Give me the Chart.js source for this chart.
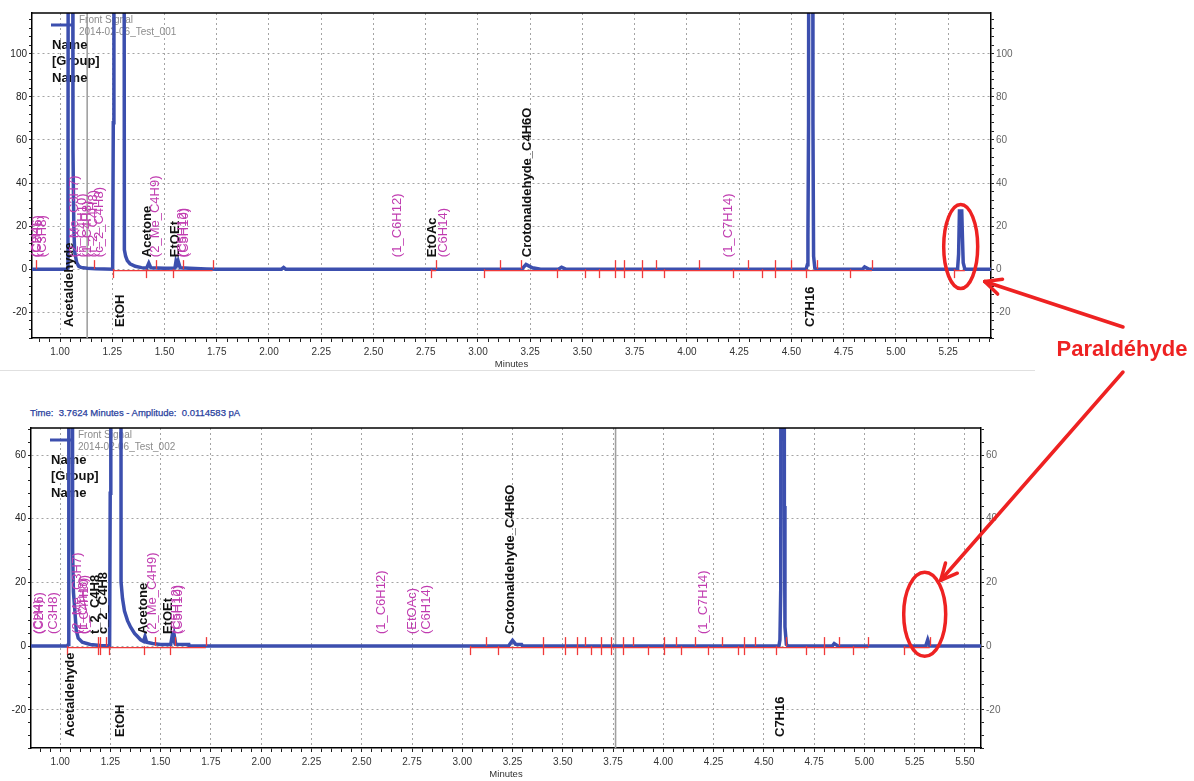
<!DOCTYPE html>
<html>
<head>
<meta charset="utf-8">
<script src="https://cdn.jsdelivr.net/npm/chart.js@4.4.1/dist/chart.umd.min.js"></script>
<style>
  body { margin: 0; background: #fff; width: 1194px; height: 781px; overflow: hidden; position: relative; font-family: "Liberation Sans", Arial, sans-serif; }
  .box { position: absolute; left: 0; width: 1040px; }
  #topBox { top: 0; height: 375px; }
  #bottomBox { top: 400px; height: 381px; }
  #sep { position: absolute; left: 0; top: 370px; width: 1035px; height: 1px; background: #e0e0e0; }
  #timeInfo { position: absolute; left: 30px; top: 407px; font-size: 9.5px; color: #2a3f9e; white-space: nowrap; -webkit-text-stroke: 0.25px #2a3f9e; }
  #overlay { position: absolute; left: 0; top: 0; pointer-events: none; }
</style>
</head>
<body>
<div id="sep"></div>
<div id="timeInfo">Time:&nbsp; 3.7624 Minutes - Amplitude:&nbsp; 0.0114583 pA</div>
<div class="box" id="topBox"><canvas id="topChart"></canvas></div>
<div class="box" id="bottomBox"><canvas id="bottomChart"></canvas></div>
<canvas id="overlay" width="1194" height="781"></canvas>
<script>
// axis ticks (minutes / pA)
const topXTicks = [1.00, 1.25, 1.50, 1.75, 2.00, 2.25, 2.50, 2.75, 3.00, 3.25, 3.50, 3.75, 4.00, 4.25, 4.50, 4.75, 5.00, 5.25];
const bottomXTicks = [1.00, 1.25, 1.50, 1.75, 2.00, 2.25, 2.50, 2.75, 3.00, 3.25, 3.50, 3.75, 4.00, 4.25, 4.50, 4.75, 5.00, 5.25, 5.50];
const topYTicks = [-20, 0, 20, 40, 60, 80, 100];
const bottomYTicks = [-20, 0, 20, 40, 60];
const topXRange = [0.866, 5.455];
const topYRange = [-32, 119];
const bottomXRange = [0.855, 5.58];
const bottomYRange = [-32, 68.5];

// signal traces (time in minutes, amplitude in pA)
const topTime = [0.866, 1.030, 1.038, 1.041, 1.059, 1.062, 1.066, 1.070, 1.080, 1.090, 1.100, 1.130, 1.170, 1.252, 1.255, 1.258, 1.305, 1.308, 1.314, 1.322, 1.335, 1.360, 1.390, 1.415, 1.425, 1.435, 1.500, 1.550, 1.555, 1.560, 1.565, 1.575, 1.620, 1.700, 1.750, 2.060, 2.070, 2.080, 3.210, 3.230, 3.245, 3.260, 3.300, 3.385, 3.400, 3.420, 4.570, 4.576, 4.579, 4.582, 4.585, 4.600, 4.603, 4.606, 4.612, 4.620, 4.840, 4.850, 4.870, 5.295, 5.300, 5.304, 5.315, 5.318, 5.322, 5.330, 5.455];
const topSignal = [0, 0, 0.5, 400, 400, 56, 20, 8, 3, 1.3, 0.8, 0.4, 0.2, 0, 68, 400, 400, 9, 6, 4, 2.5, 1.3, 0.7, 0.5, 2.8, 0.6, 0.4, 0.5, 3.6, 2.4, 3.8, 0.6, 0.4, 0.1, 0, 0, 0.8, 0, 0, 2.2, 1.4, 0.6, 0, 0, 0.9, 0, 0, 2, 16, 68, 400, 400, 68, 6, 0.5, 0, 0, 1, 0, 0, 7, 27, 27, 16, 3, 0, 0];
const bottomTime = [0.855, 1.035, 1.040, 1.043, 1.058, 1.062, 1.066, 1.072, 1.080, 1.090, 1.110, 1.150, 1.200, 1.246, 1.249, 1.252, 1.300, 1.303, 1.310, 1.320, 1.335, 1.350, 1.370, 1.385, 1.400, 1.415, 1.422, 1.430, 1.460, 1.500, 1.550, 1.557, 1.563, 1.567, 1.575, 1.640, 1.642, 3.230, 3.250, 3.265, 3.295, 3.300, 4.575, 4.580, 4.584, 4.587, 4.600, 4.602, 4.605, 4.612, 4.620, 4.840, 4.850, 4.870, 5.305, 5.315, 5.325, 5.580];
const bottomSignal = [0, 0, 0.5, 400, 400, 30, 17, 12, 5, 2.5, 1.2, 0.5, 0.2, 0, 48, 400, 400, 20, 15, 11, 8, 6, 4, 3, 2, 1.5, 3, 1.2, 0.8, 0.5, 0.5, 3.2, 2.2, 3.5, 0.6, 0.5, 0, 0, 1.8, 0.6, 0.5, 0, 0, 2, 18, 400, 400, 44, 6, 0.5, 0, 0, 0.8, 0, 0, 2, 0, 0];

// integration events: time and direction (1 up, -1 down, 0 both)
const topMarkTimes = [0.885, 1.163, 1.254, 1.41, 1.46, 1.54, 1.59, 1.73, 2.775, 2.80, 3.03, 3.105, 3.205, 3.38, 3.51, 3.58, 3.655, 3.70, 3.785, 3.85, 3.89, 4.06, 4.22, 4.29, 4.36, 4.42, 4.50, 4.57, 4.62, 4.78, 4.885, 5.28];
const topMarkDir = [1, 1, -1, -1, 1, -1, 1, 1, -1, 1, -1, 1, 1, -1, -1, -1, 0, 0, 0, 1, -1, 1, -1, 1, -1, 0, 1, -1, 1, -1, 1, -1];
const topRuns = [[1.254, 1.73], [2.775, 2.80], [3.03, 4.885], [5.28, 5.33]];
const bottomMarkTimes = [1.035, 1.19, 1.20, 1.23, 1.245, 1.415, 1.47, 1.545, 1.57, 1.725, 3.04, 3.12, 3.18, 3.40, 3.51, 3.57, 3.61, 3.64, 3.69, 3.74, 3.80, 3.85, 3.925, 4.005, 4.065, 4.09, 4.16, 4.22, 4.29, 4.37, 4.40, 4.455, 4.56, 4.61, 4.71, 4.80, 4.875, 4.945, 5.02, 5.195, 5.325];
const bottomMarkDir = [-1, 0, 0, 1, -1, -1, 1, -1, 1, 1, -1, 1, -1, 0, 0, 0, 1, -1, 0, 0, 0, 1, -1, 0, 1, -1, 1, -1, 1, -1, 0, 1, -1, 1, -1, 0, 1, -1, 1, -1, 1];
const bottomRuns = [[1.035, 1.725], [3.04, 5.02], [5.195, 5.325]];

// peak names: 'peak' = identified (above), 'low' = identified (below), 'group' = expected (magenta)
const topLabelNames = ['(CH4)', '(C2H6)', '(C3H8)', 'Acetaldehyde', '(2_Me_C3H7)', '(n_C4H10)', '(1_C4H8)', '(t_2_C4H8)', '(c_2_C4H8)', 'EtOH', 'Acetone', '(2_Me_C4H9)', 'EtOEt', '(C5H12)', '(C5H10)', '(1_C6H12)', 'EtOAc', '(C6H14)', 'Crotonaldehyde_C4H6O', '(1_C7H14)', 'C7H16'];
const topLabelTimes = [0.885, 0.89, 0.915, 1.045, 1.07, 1.105, 1.13, 1.16, 1.19, 1.29, 1.42, 1.455, 1.55, 1.588, 1.595, 2.617, 2.78, 2.833, 3.235, 4.197, 4.59];
const topLabelKinds = ['group', 'group', 'group', 'low', 'group', 'group', 'group', 'group', 'group', 'low', 'peak', 'group', 'peak', 'group', 'group', 'group', 'peak', 'group', 'peak', 'group', 'low'];
const bottomLabelNames = ['(CH4)', '(C2H6)', '(C3H8)', 'Acetaldehyde', '(2_Me_C3H7)', '(1_C4H8)', '(i_C4H10)', 't_2_C4H8', 'c_2_C4H8', 'EtOH', 'Acetone', '(2_Me_C4H9)', 'EtOEt', '(C5H12)', '(C5H10)', '(1_C6H12)', '(EtOAc)', '(C6H14)', 'Crotonaldehyde_C4H6O', '(1_C7H14)', 'C7H16'];
const bottomLabelTimes = [0.89, 0.895, 0.965, 1.05, 1.085, 1.115, 1.12, 1.175, 1.215, 1.30, 1.415, 1.46, 1.54, 1.58, 1.587, 2.60, 2.75, 2.82, 3.24, 4.20, 4.58];
const bottomLabelKinds = ['group', 'group', 'group', 'low', 'group', 'group', 'group', 'peak', 'peak', 'low', 'peak', 'group', 'peak', 'group', 'group', 'group', 'group', 'group', 'peak', 'group', 'low'];

const topLegend = ['Front Signal', '2014-02-06_Test_001'];
const bottomLegend = ['Front Signal', '2014-02-06_Test_002'];
const topCursor = 1.13;
const bottomCursor = 3.7624;

const FONT = '"Liberation Sans", Arial, sans-serif';
const BLUE = '#3c4fae';
const RED = '#f03a3a';

// draws legend, cursor, integration marks and peak names
const chromPlugin = {
    id: 'chrom',
    beforeDatasetsDraw(chart, args, opts) {
        const {ctx, chartArea: a, scales: {x}} = chart;
        ctx.save();
        const cx = x.getPixelForValue(opts.cursor);
        ctx.strokeStyle = '#a0a0a0';
        ctx.lineWidth = 1.6;
        ctx.beginPath(); ctx.moveTo(cx, a.top); ctx.lineTo(cx, a.bottom); ctx.stroke();

        ctx.strokeStyle = BLUE;
        ctx.lineWidth = 3;
        ctx.beginPath(); ctx.moveTo(a.left + 19, a.top + 12); ctx.lineTo(a.left + 40, a.top + 12); ctx.stroke();
        ctx.fillStyle = '#8c8c8c';
        ctx.font = '10px ' + FONT;
        ctx.textBaseline = 'middle';
        ctx.fillText(opts.legend[0], a.left + 47, a.top + 7);
        ctx.fillText(opts.legend[1], a.left + 47, a.top + 19);
        ctx.fillStyle = '#111';
        ctx.font = 'bold 13px ' + FONT;
        ['Name', '[Group]', 'Name'].forEach((s, i) => ctx.fillText(s, a.left + 20, a.top + 32 + i * 16.5));
        ctx.restore();
    },
    afterDatasetsDraw(chart, args, opts) {
        const {ctx, chartArea: a, scales: {x, y}} = chart;
        const y0 = y.getPixelForValue(0);
        ctx.save();
        ctx.strokeStyle = RED;
        ctx.lineWidth = 1.3;
        opts.runs.forEach(r => {
            ctx.beginPath();
            ctx.moveTo(x.getPixelForValue(r[0]), y0 + 1.5);
            ctx.lineTo(x.getPixelForValue(r[1]), y0 + 1.5);
            ctx.stroke();
        });
        opts.marks.forEach((t, i) => {
            const px = Math.round(x.getPixelForValue(t)) + 0.5;
            const d = opts.dirs[i];
            ctx.beginPath();
            ctx.moveTo(px, d < 0 ? y0 : y0 - 9);
            ctx.lineTo(px, d > 0 ? y0 : y0 + 9);
            ctx.stroke();
        });

        ctx.textBaseline = 'middle';
        ctx.textAlign = 'left';
        opts.names.forEach((name, i) => {
            const kind = opts.kinds[i];
            const px = x.getPixelForValue(opts.times[i]);
            const py = kind === 'low' ? a.bottom - 11 : y0 - 12;
            ctx.fillStyle = kind === 'group' ? '#c03cb0' : '#111';
            ctx.font = (kind === 'group' ? '' : 'bold ') + '13px ' + FONT;
            ctx.save();
            ctx.translate(px, py);
            ctx.rotate(-Math.PI / 2);
            ctx.fillText(name, 0, 0);
            ctx.restore();
        });
        ctx.restore();
    },
    afterDraw(chart) {
        const {ctx, chartArea: a} = chart;
        ctx.save();
        ctx.strokeStyle = '#000';
        ctx.lineWidth = 1.5;
        ctx.beginPath(); ctx.moveTo(a.left, a.top); ctx.lineTo(a.right, a.top); ctx.stroke();
        ctx.fillStyle = '#333';
        ctx.font = '9.5px ' + FONT;
        ctx.textAlign = 'center';
        ctx.textBaseline = 'middle';
        ctx.fillText('Minutes', (a.left + a.right) / 2, a.bottom + 26);
        ctx.restore();
    }
};

function isNear(list, v) {
    return list.some(m => Math.abs(m - v) < 1e-6);
}

function xAxis(range, majors, height) {
    return {
        type: 'linear', position: 'bottom', min: range[0], max: range[1],
        afterBuildTicks: s => {
            const ticks = [];
            for (let i = Math.ceil(range[0] * 20 - 1e-9); i <= Math.floor(range[1] * 20 + 1e-9); i++) ticks.push({value: i / 20});
            s.ticks = ticks;
        },
        afterFit: s => { s.height = height; },
        ticks: {
            autoSkip: false, maxRotation: 0, padding: 4, color: '#333', font: {size: 10, family: FONT},
            callback: v => isNear(majors, v) ? v.toFixed(2) : ''
        },
        grid: {
            color: c => c.tick && isNear(majors, c.tick.value) ? '#a4a4a4' : 'rgba(0,0,0,0)',
            tickColor: '#222', tickLength: 4, lineWidth: 1
        },
        border: {display: true, color: '#000', width: 1.5, dash: [2, 3]}
    };
}

function yAxis(range, majors, pos, width, labelColor) {
    return {
        type: 'linear', position: pos, min: range[0], max: range[1],
        afterBuildTicks: s => {
            const ticks = [];
            for (let i = Math.ceil(range[0] / 4); i <= Math.floor(range[1] / 4); i++) ticks.push({value: i * 4});
            s.ticks = ticks;
        },
        afterFit: s => { s.width = width; },
        ticks: {
            autoSkip: false, padding: 2, color: labelColor, font: {size: 10, family: FONT},
            callback: v => isNear(majors, v) ? String(v) : ''
        },
        grid: {
            drawOnChartArea: pos === 'left',
            color: c => c.tick && isNear(majors, c.tick.value) ? '#a4a4a4' : 'rgba(0,0,0,0)',
            tickColor: '#222', tickLength: 3
        },
        border: {display: true, color: '#000', width: 1.5, dash: [2, 3]}
    };
}

function makeChart(id, time, signal, opts) {
    const ctx = document.getElementById(id).getContext('2d');
    return new Chart(ctx, {
        type: 'scatter',
        data: {
            datasets: [{
                data: time.map((t, i) => ({x: t, y: signal[i]})),
                showLine: true,
                borderColor: BLUE,
                borderWidth: 3.5,
                pointRadius: 0,
                tension: 0
            }]
        },
        options: {
            responsive: true,
            maintainAspectRatio: false,
            animation: false,
            devicePixelRatio: 1,
            layout: {padding: {top: opts.top, left: 0, right: 0, bottom: 0}},
            scales: {
                x: xAxis(opts.xRange, opts.xTicks, opts.xHeight),
                y: yAxis(opts.yRange, opts.yTicks, 'left', opts.leftWidth, '#222'),
                y2: yAxis(opts.yRange, opts.yTicks, 'right', opts.rightWidth, '#666')
            },
            plugins: {
                legend: {display: false},
                tooltip: {enabled: false},
                chrom: opts.chrom
            }
        },
        plugins: [chromPlugin]
    });
}

const topChart = makeChart('topChart', topTime, topSignal, {
    top: 13, xRange: topXRange, yRange: topYRange, xTicks: topXTicks, yTicks: topYTicks,
    xHeight: 37, leftWidth: 32, rightWidth: 49,
    chrom: {cursor: topCursor, legend: topLegend, runs: topRuns, marks: topMarkTimes, dirs: topMarkDir,
        names: topLabelNames, times: topLabelTimes, kinds: topLabelKinds}
});

const bottomChart = makeChart('bottomChart', bottomTime, bottomSignal, {
    top: 28, xRange: bottomXRange, yRange: bottomYRange, xTicks: bottomXTicks, yTicks: bottomYTicks,
    xHeight: 33, leftWidth: 31, rightWidth: 59,
    chrom: {cursor: bottomCursor, legend: bottomLegend, runs: bottomRuns, marks: bottomMarkTimes, dirs: bottomMarkDir,
        names: bottomLabelNames, times: bottomLabelTimes, kinds: bottomLabelKinds}
});

// red hand-drawn style highlight of the paraldehyde peak
function pagePoint(chart, boxId, t, v) {
    const box = document.getElementById(boxId);
    return [box.offsetLeft + chart.scales.x.getPixelForValue(t), box.offsetTop + chart.scales.y.getPixelForValue(v)];
}

function drawArrow(ctx, from, to) {
    ctx.beginPath(); ctx.moveTo(from[0], from[1]); ctx.lineTo(to[0], to[1]); ctx.stroke();
    const ang = Math.atan2(from[1] - to[1], from[0] - to[0]);
    [0.45, -0.45].forEach(d => {
        ctx.beginPath();
        ctx.moveTo(to[0], to[1]);
        ctx.lineTo(to[0] + 18 * Math.cos(ang + d), to[1] + 18 * Math.sin(ang + d));
        ctx.stroke();
    });
}

const ov = document.getElementById('overlay').getContext('2d');
ov.strokeStyle = '#ee2222';
ov.lineWidth = 3.5;
ov.lineCap = 'round';
const c1 = pagePoint(topChart, 'topBox', 5.31, 10.5);
const c2 = pagePoint(bottomChart, 'bottomBox', 5.30, 10);
ov.beginPath(); ov.ellipse(c1[0], c1[1], 17, 42, 0, 0, Math.PI * 2); ov.stroke();
ov.beginPath(); ov.ellipse(c2[0], c2[1], 21, 42, 0, 0, Math.PI * 2); ov.stroke();
drawArrow(ov, [1123, 327], [c1[0] + 24, c1[1] + 35]);
drawArrow(ov, [1123, 372], [c2[0] + 16, c2[1] - 34]);
ov.fillStyle = '#ee2222';
ov.font = 'bold 22px ' + FONT;
ov.textAlign = 'center';
ov.textBaseline = 'middle';
ov.fillText('Paraldéhyde', 1122, 350);
</script>
</body>
</html>
